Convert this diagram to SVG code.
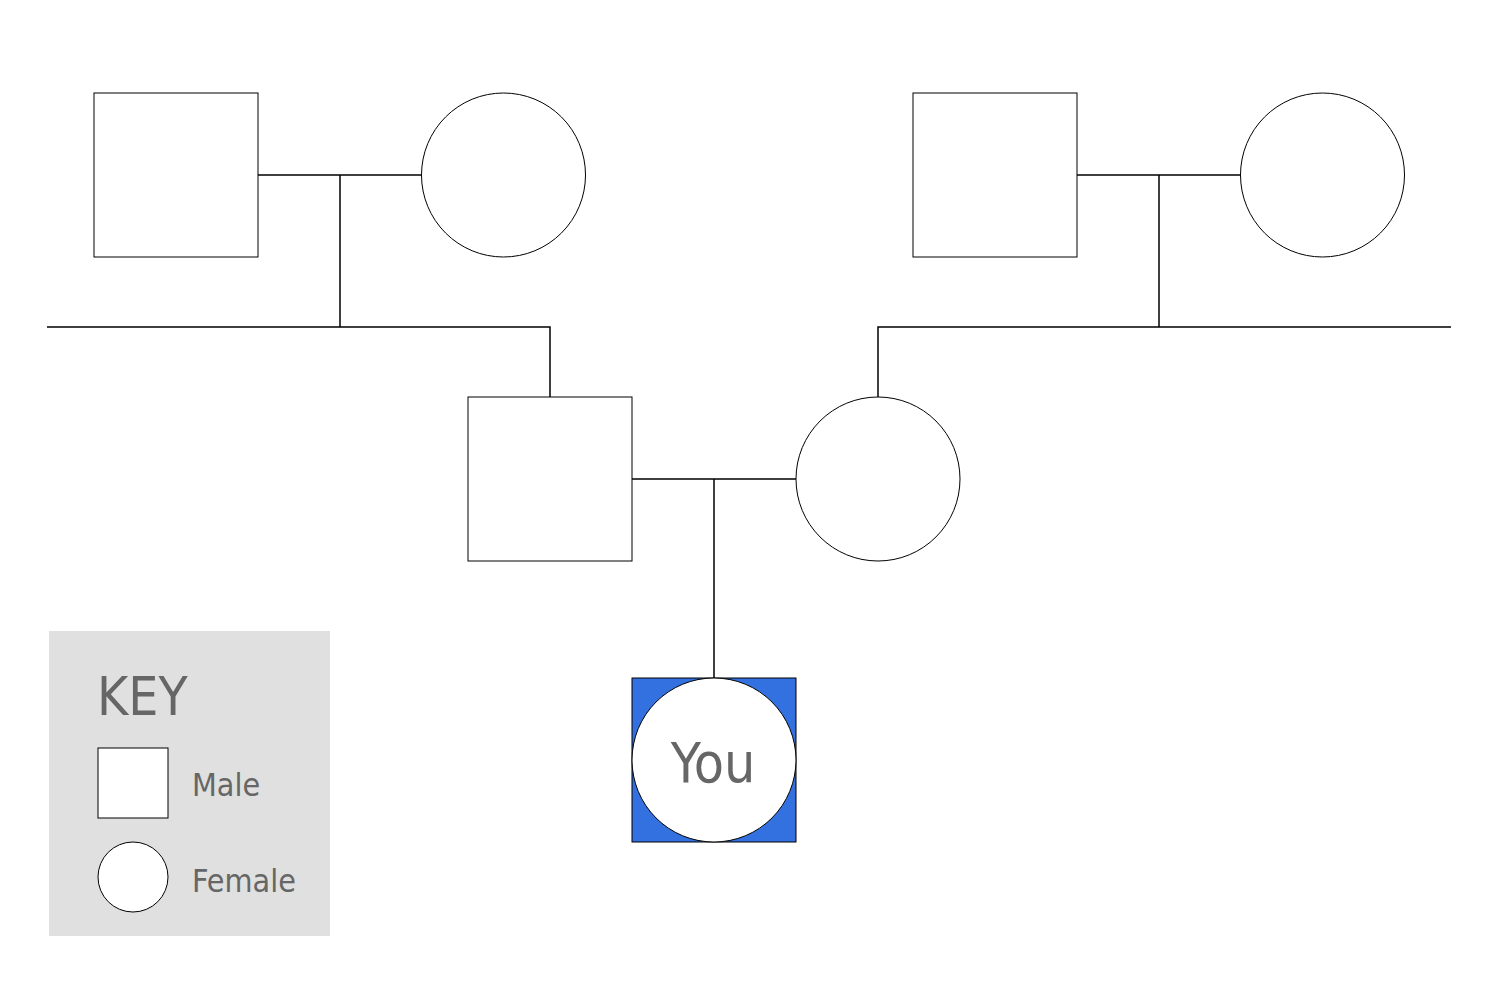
<svg xmlns="http://www.w3.org/2000/svg" width="1500" height="981" viewBox="0 0 1500 981">
<style>
.m{fill:#fff;stroke:#000;stroke-width:1}
.f{fill:#fff;stroke:#000;stroke-width:1}
.c{fill:none;stroke:#000;stroke-width:1.5}
.t{font-family:"DejaVu Sans Condensed","DejaVu Sans",sans-serif;fill:#666}
</style>
<rect width="1500" height="981" fill="#fff"/>
<g id="connectors">
<path class="c" d="M258 175H422M340 175V327M47 327H550V397"/>
<path class="c" d="M1077 175H1240M1159 175V327M1451 327H878V397"/>
<path class="c" d="M632 479H796M714 479V678"/>
</g>
<g id="pgf"><rect class="m" x="94" y="93" width="164" height="164"/></g>
<g id="pgm"><circle class="f" cx="503.5" cy="175" r="82"/></g>
<g id="mgf"><rect class="m" x="913" y="93" width="164" height="164"/></g>
<g id="mgm"><circle class="f" cx="1322.5" cy="175" r="82"/></g>
<g id="father"><rect class="m" x="468" y="397" width="164" height="164"/></g>
<g id="mother"><circle class="f" cx="878" cy="479" r="82"/></g>
<g id="you">
<rect x="632" y="678" width="164" height="164" fill="#3471e0" stroke="#000" stroke-width="1"/>
<circle class="f" cx="714" cy="760" r="82"/>
<text class="t" x="713" y="782" font-size="55" text-anchor="middle">You</text>
</g>
<g id="key">
<rect x="49" y="631" width="281" height="305" fill="#e0e0e0"/>
<text class="t" x="97" y="715" font-size="53">KEY</text>
<rect class="m" x="98" y="748" width="70" height="70"/>
<text class="t" x="192" y="796" font-size="32">Male</text>
<circle class="f" cx="133" cy="877" r="35"/>
<text class="t" x="192" y="892" font-size="32">Female</text>
</g>
</svg>
